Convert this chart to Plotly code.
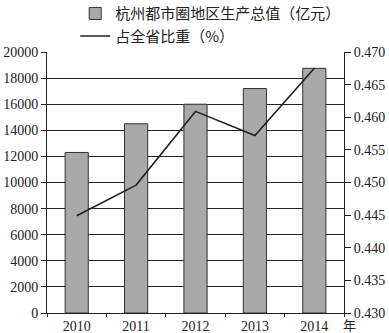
import plotly.graph_objects as go

years = ["2010", "2011", "2012", "2013", "2014"]
gdp = [12300, 14500, 16000, 17200, 18750]
share = [0.4449, 0.4496, 0.4609, 0.4572, 0.4675]
left_ticks = [0, 2000, 4000, 6000, 8000, 10000, 12000, 14000, 16000, 18000, 20000]
right_ticks = [0.430, 0.435, 0.440, 0.445, 0.450, 0.455, 0.460, 0.465, 0.470]

num_font = dict(family="Liberation Serif, Times New Roman, serif", size=14, color="#222")
cjk_font = dict(family="Noto Sans CJK SC, sans-serif", size=15, color="#222")

fig = go.Figure()
fig.add_trace(go.Bar(
    x=years, y=gdp, name="杭州都市圈地区生产总值（亿元）",
    marker=dict(color="#a9a9a9", line=dict(color="#333", width=1)),
    width=0.39,
))
fig.add_trace(go.Scatter(
    x=years, y=share, name="占全省比重（%）", yaxis="y2",
    mode="lines", line=dict(color="#222", width=1.6),
))

fig.update_layout(
    width=389, height=333,
    margin=dict(l=47, r=45, t=52, b=20, autoexpand=False),
    plot_bgcolor="white", paper_bgcolor="white",
    bargap=0.61,
    showlegend=True,
    legend=dict(
        x=0.095, xanchor="left", y=1.21, yanchor="top",
        font=cjk_font, bgcolor="rgba(0,0,0,0)", tracegroupgap=0,
        itemwidth=30,
    ),
    xaxis=dict(
        type="category", tickson="boundaries", ticks="outside", ticklen=3,
        tickcolor="#222", showline=True, linecolor="#222", linewidth=1,
        showgrid=False, tickfont=num_font, range=[-0.5, 4.5],
        automargin=False,
    ),
    yaxis=dict(
        range=[0, 20000], tickvals=left_ticks, tickformat="d", ticks="outside", ticklen=5,
        tickcolor="#222", showline=True, linecolor="#222", linewidth=1,
        showgrid=True, gridcolor="#222", gridwidth=1, tickfont=num_font,
        zeroline=False, automargin=False,
    ),
    yaxis2=dict(
        overlaying="y", side="right", range=[0.430, 0.470],
        tickvals=right_ticks, tickformat=".3f", ticks="outside", ticklen=6,
        tickcolor="#222", showline=True, linecolor="#222", linewidth=1,
        showgrid=False, tickfont=num_font, zeroline=False, automargin=False,
    ),
    annotations=[dict(
        text="年", xref="paper", yref="paper", x=1.02, y=0, xanchor="center",
        yanchor="middle", showarrow=False,
        font=dict(family="Noto Sans CJK SC, sans-serif", size=13, color="#222"),
        yshift=-11,
    )],
)

fig.write_html("out.html")
